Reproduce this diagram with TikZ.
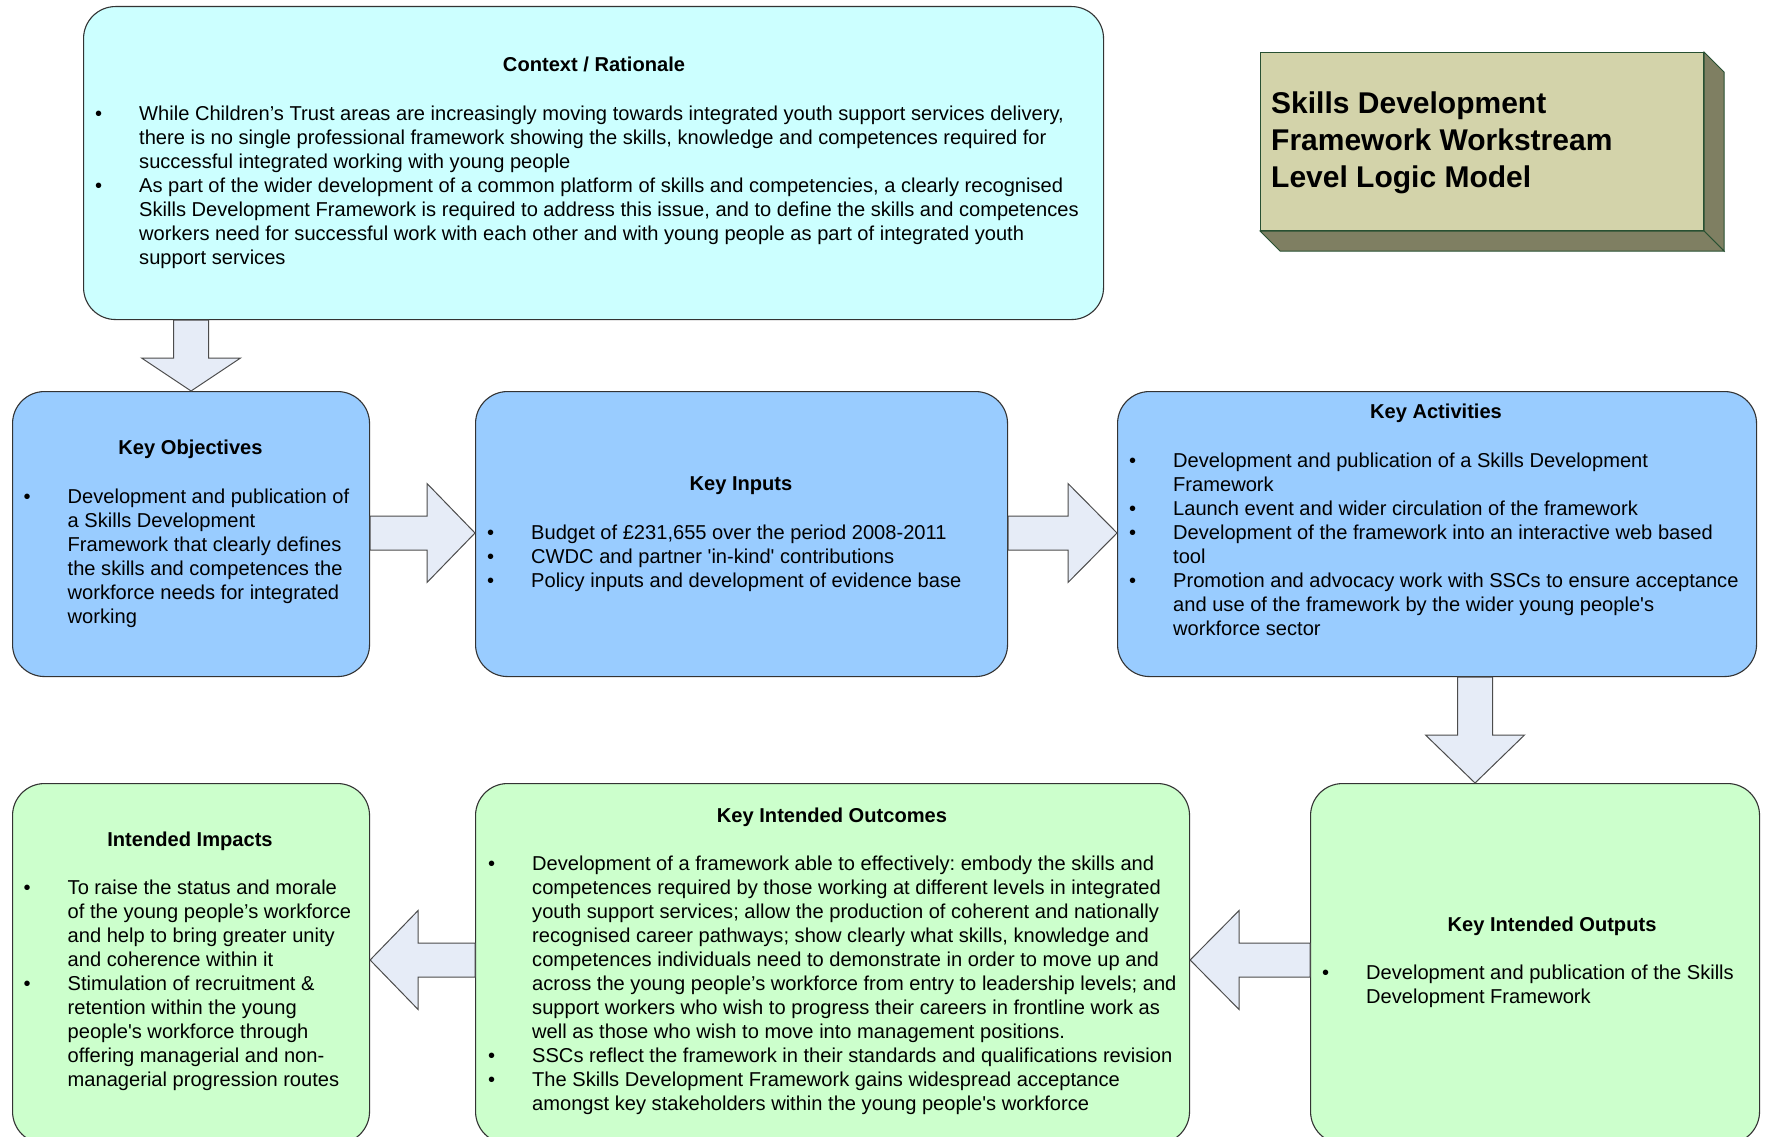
\documentclass[tikz,border=0pt]{standalone}
\usepackage{fontspec}
\setmainfont{Liberation Sans}
\usetikzlibrary{calc}
\frenchspacing

\definecolor{ctxfill}{HTML}{CCFFFF}
\definecolor{bluefill}{HTML}{99CCFF}
\definecolor{greenfill}{HTML}{CCFFCC}
\definecolor{arrowfill}{RGB}{230,236,247}
\definecolor{titleface}{RGB}{211,211,170}
\definecolor{titleside}{RGB}{127,127,98}
\definecolor{titleedge}{RGB}{40,80,50}

% bulleted list: bullet column, then the text lines
\newcommand\blist[1]{\begin{tabular}[t]{@{}p{44pt}@{}l@{}}#1\end{tabular}}
\newcommand\bt{\textbullet}
\newcommand\sq{\textquotesingle}

% horizontal block arrow: start, tip, signed head length
\newcommand\hblock[3]{%
  \draw[blockarrow] ($(#1)+(0,-17)$) -- ($(#2)+(#3,-17)$) -- ($(#2)+(#3,-49.5)$)
    -- (#2) -- ($(#2)+(#3,49.5)$) -- ($(#2)+(#3,17)$) -- ($(#1)+(0,17)$) -- cycle;}
% vertical block arrow: start, tip, signed head length
\newcommand\vblock[3]{%
  \draw[blockarrow] ($(#1)+(-17.5,0)$) -- ($(#2)+(-17.5,#3)$) -- ($(#2)+(-49.5,#3)$)
    -- (#2) -- ($(#2)+(49.5,#3)$) -- ($(#2)+(17.5,#3)$) -- ($(#1)+(17.5,0)$) -- cycle;}

\begin{document}
\begin{tikzpicture}[x=1pt,y=-1pt,
  box/.style={draw=black!80, line width=1.1pt, rounded corners=32pt, inner sep=0pt, anchor=north west},
  blockarrow/.style={draw=black!70, line width=1pt, fill=arrowfill, line join=miter},
  head/.style={font=\fontsize{20.1}{24}\selectfont\bfseries, anchor=base, inner sep=0pt},
  body/.style={font=\fontsize{20.1}{24}\selectfont, anchor=base west, inner sep=0pt}]
\useasboundingbox (0,0) rectangle (1766,1137);
\fill[white] (0,0) rectangle (1766,1137);

% ---- boxes ----
\node[box, fill=ctxfill,   minimum width=1020pt, minimum height=313pt] (ctx) at (83,6) {};
\node[box, fill=bluefill,  minimum width=357pt,  minimum height=285pt] (obj) at (12,391) {};
\node[box, fill=bluefill,  minimum width=532pt,  minimum height=285pt] (inp) at (475,391) {};
\node[box, fill=bluefill,  minimum width=639pt,  minimum height=285pt] (act) at (1117,391) {};
\node[box, fill=greenfill, minimum width=357pt,  minimum height=360pt] (imp) at (12,783) {};
\node[box, fill=greenfill, minimum width=714pt,  minimum height=360pt] (out) at (475,783) {};
\node[box, fill=greenfill, minimum width=449pt,  minimum height=360pt] (opt) at (1310,783) {};

% ---- title block (extruded) ----
\node[draw=titleedge, fill=titleface, line width=1pt, minimum width=443pt, minimum height=178pt,
      inner sep=0pt, anchor=north west] (title) at (1260,52) {};
\filldraw[fill=titleside, draw=titleedge, line width=1pt]
  (title.north east) -- ++(20,20) -- ($(title.south east)+(20,20)$) -- (title.south east) -- cycle;
\filldraw[fill=titleside, draw=titleedge, line width=1pt]
  (title.south west) -- (title.south east) -- ($(title.south east)+(20,20)$) -- ($(title.south west)+(20,20)$) -- cycle;
\node[anchor=base west, inner sep=0pt, font=\fontsize{30}{37}\selectfont\bfseries] (titletext) at (1271,113.5)
  {\begin{tabular}[t]{@{}l@{}}Skills Development\\ Framework Workstream\\ Level Logic Model\end{tabular}};

% ---- block arrows ----
\coordinate (ya) at (0,533);
\coordinate (yb) at (0,960);
\coordinate (xd) at (1475,0);
\coordinate (a1s) at (obj.north |- ctx.south);
\coordinate (a2s) at (obj.east |- ya);  \coordinate (a2t) at (inp.west |- ya);
\coordinate (a3s) at (inp.east |- ya);  \coordinate (a3t) at (act.west |- ya);
\coordinate (a4s) at (act.south -| xd); \coordinate (a4t) at (opt.north -| xd);
\coordinate (a5s) at (opt.west |- yb);  \coordinate (a5t) at (out.east |- yb);
\coordinate (a6s) at (out.west |- yb);  \coordinate (a6t) at (imp.east |- yb);
\vblock{a1s}{obj.north}{-33}
\hblock{a2s}{a2t}{-48}
\hblock{a3s}{a3t}{-49}
\vblock{a4s}{a4t}{-48}
\hblock{a5s}{a5t}{49}
\hblock{a6s}{a6t}{48}

% ---- texts ----
\node[head] (ctxh) at (594,72) {Context / Rationale};
\node[body] (ctxb) at (95,121) {\blist{%
  \bt & While Children’s Trust areas are increasingly moving towards integrated youth support services delivery,\\
      & there is no single professional framework showing the skills, knowledge and competences required for\\
      & successful integrated working with young people\\
  \bt & As part of the wider development of a common platform of skills and competencies, a clearly recognised\\
      & Skills Development Framework is required to address this issue, and to define the skills and competences\\
      & workers need for successful work with each other and with young people as part of integrated youth\\
      & support services}};

\node[head] (objh) at (190.5,454.5) {Key Objectives};
\node[body] (objb) at (23.5,503.5) {\blist{%
  \bt & Development and publication of\\
      & a Skills Development\\
      & Framework that clearly defines\\
      & the skills and competences the\\
      & workforce needs for integrated\\
      & working}};

\node[head] (inph) at (741,490.5) {Key Inputs};
\node[body] (inpb) at (487,539.5) {\blist{%
  \bt & Budget of £231,655 over the period 2008-2011\\
  \bt & CWDC and partner \sq in-kind\sq{} contributions\\
  \bt & Policy inputs and development of evidence base}};

\node[head] (acth) at (1436,418.5) {Key Activities};
\node[body] (actb) at (1129,467) {\blist{%
  \bt & Development and publication of a Skills Development\\
      & Framework\\
  \bt & Launch event and wider circulation of the framework\\
  \bt & Development of the framework into an interactive web based\\
      & tool\\
  \bt & Promotion and advocacy work with SSCs to ensure acceptance\\
      & and use of the framework by the wider young people\sq s\\
      & workforce sector}};

\node[head] (opth) at (1552,931) {Key Intended Outputs};
\node[body] (optb) at (1322,979.5) {\blist{%
  \bt & Development and publication of the Skills\\
      & Development Framework}};

\node[head] (outh) at (832,822.5) {Key Intended Outcomes};
\node[body] (outb) at (488,870.5) {\blist{%
  \bt & Development of a framework able to effectively: embody the skills and\\
      & competences required by those working at different levels in integrated\\
      & youth support services; allow the production of coherent and nationally\\
      & recognised career pathways; show clearly what skills, knowledge and\\
      & competences individuals need to demonstrate in order to move up and\\
      & across the young people’s workforce from entry to leadership levels; and\\
      & support workers who wish to progress their careers in frontline work as\\
      & well as those who wish to move into management positions.\\
  \bt & SSCs reflect the framework in their standards and qualifications revision\\
  \bt & The Skills Development Framework gains widespread acceptance\\
      & amongst key stakeholders within the young people\sq s workforce}};

\node[head] (imph) at (190,846.5) {Intended Impacts};
\node[body] (impb) at (23.5,894.5) {\blist{%
  \bt & To raise the status and morale\\
      & of the young people’s workforce\\
      & and help to bring greater unity\\
      & and coherence within it\\
  \bt & Stimulation of recruitment \&\\
      & retention within the young\\
      & people\sq s workforce through\\
      & offering managerial and non-\\
      & managerial progression routes}};
\end{tikzpicture}
\end{document}
